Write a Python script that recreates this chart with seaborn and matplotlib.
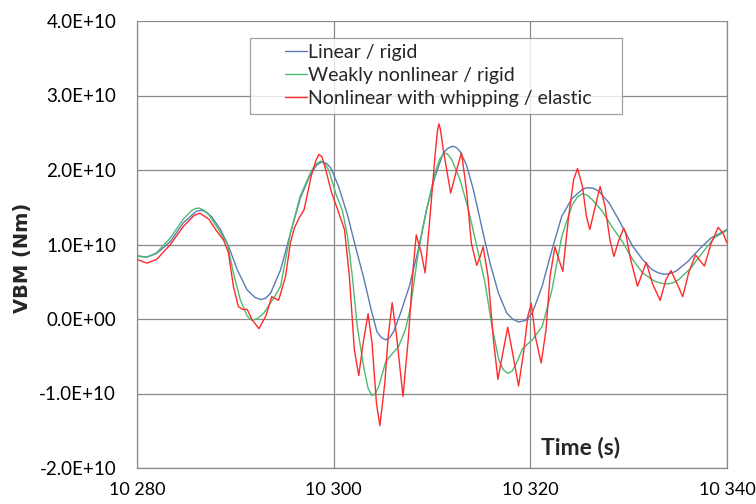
import numpy as np
import pandas as pd
import matplotlib
matplotlib.use("Agg")
import matplotlib.pyplot as plt
from matplotlib.ticker import FuncFormatter, FixedLocator
from matplotlib.legend_handler import HandlerLine2D
from matplotlib.lines import Line2D
import seaborn as sns

# ---- data (VBM in units of 1e10 Nm) ----
t_linear = [10280, 10281, 10282, 10283.4, 10284.7, 10285.8, 10286.1, 10286.6, 10287.1, 10287.6,
            10288.5, 10289.3, 10290.2, 10291.2, 10292.0, 10292.6, 10293.1, 10293.6, 10294.6, 10295.6,
            10296.6, 10297.7, 10298.3, 10298.8, 10299.25, 10299.7, 10300.5, 10301.4, 10302.2, 10303.1,
            10303.8, 10304.4, 10304.85, 10305.3, 10305.7, 10306.1, 10306.8, 10307.7, 10308.6, 10309.45,
            10310.3, 10311.15, 10311.6, 10312.1, 10312.5, 10312.85, 10313.5, 10314.2, 10315.05, 10315.9,
            10316.75, 10317.6, 10318.2, 10318.8, 10319.5, 10320.2, 10321.2, 10322.2, 10323.2, 10324.25,
            10325.3, 10325.7, 10326.1, 10326.5, 10327.0, 10328.0, 10329.0, 10330.4, 10331.4, 10332.4,
            10333.0, 10333.6, 10334.2, 10334.8, 10336.0, 10337.2, 10338.4, 10340]
v_linear = [0.85, 0.83, 0.88, 1.04, 1.29, 1.42, 1.45, 1.46, 1.43, 1.37,
            1.20, 0.98, 0.66, 0.39, 0.29, 0.26, 0.28, 0.35, 0.66, 1.15,
            1.62, 1.96, 2.07, 2.11, 2.09, 2.03, 1.78, 1.40, 0.98, 0.53,
            0.13, -0.17, -0.25, -0.28, -0.25, -0.17, 0.08, 0.44, 0.93, 1.47,
            1.91, 2.23, 2.29, 2.32, 2.30, 2.25, 2.07, 1.74, 1.24, 0.75,
            0.35, 0.08, 0.00, -0.04, -0.02, 0.08, 0.44, 0.93, 1.38, 1.62,
            1.74, 1.76, 1.76, 1.75, 1.71, 1.56, 1.33, 0.98, 0.80, 0.66,
            0.62, 0.60, 0.61, 0.64, 0.77, 0.94, 1.09, 1.20]

t_weak = [10280, 10281, 10282, 10283.4, 10284.7, 10285.6, 10285.9, 10286.3, 10286.8, 10287.3,
          10288.3, 10289.2, 10289.8, 10290.5, 10291.2, 10291.7, 10292.3, 10292.9, 10293.9, 10294.6,
          10295.6, 10296.6, 10297.7, 10298.2, 10298.7, 10299.1, 10299.5, 10300.2, 10300.9, 10301.4,
          10301.9, 10302.4, 10303.1, 10303.5, 10303.9, 10304.25, 10304.6, 10305.3, 10306.0, 10306.6,
          10307.3, 10307.8, 10308.6, 10309.45, 10310.3, 10310.8, 10311.25, 10311.6, 10312.0, 10312.85,
          10313.7, 10314.55, 10315.4, 10316.1, 10316.8, 10317.25, 10317.7, 10318.15, 10318.6, 10319.2,
          10320.2, 10321.2, 10322.2, 10323.2, 10324.25, 10324.8, 10325.3, 10325.8, 10326.3, 10327.3,
          10328.3, 10329.4, 10330.4, 10331.4, 10332.6, 10333.3, 10334.0, 10334.6, 10335.1, 10336.3,
          10337.5, 10338.7, 10340]
v_weak = [0.84, 0.83, 0.89, 1.09, 1.34, 1.46, 1.48, 1.49, 1.46, 1.40,
          1.20, 1.00, 0.62, 0.26, 0.04, -0.02, 0.01, 0.08, 0.28, 0.44,
          1.15, 1.65, 1.98, 2.08, 2.12, 2.08, 2.00, 1.69, 1.45, 1.11,
          0.57, -0.10, -0.68, -0.93, -1.03, -1.00, -0.90, -0.57, -0.46, -0.37,
          -0.14, 0.15, 0.89, 1.47, 1.96, 2.15, 2.23, 2.21, 2.14, 1.87,
          1.47, 0.98, 0.48, -0.10, -0.55, -0.68, -0.73, -0.70, -0.59, -0.40,
          -0.28, -0.10, 0.39, 1.11, 1.53, 1.64, 1.68, 1.66, 1.60, 1.45,
          1.24, 1.03, 0.80, 0.62, 0.51, 0.48, 0.47, 0.49, 0.53, 0.68,
          0.89, 1.09, 1.19]

t_whip = [10280, 10281, 10282, 10283.4, 10284.7, 10285.8, 10286.4, 10287.3, 10288.0, 10288.8,
          10289.3, 10289.8, 10290.3, 10290.7, 10291.2, 10291.7, 10292.4, 10293.1, 10293.7, 10294.4,
          10295.1, 10295.6, 10296.0, 10296.5, 10297.0, 10297.7, 10298.2, 10298.5, 10298.8, 10299.1,
          10299.8, 10300.4, 10301.1, 10301.6, 10302.1, 10302.55, 10303.0, 10303.5, 10303.9, 10304.35,
          10304.7, 10305.2, 10305.55, 10305.95, 10306.4, 10307.05, 10307.6, 10308.1, 10308.4, 10308.9,
          10309.3, 10309.8, 10310.3, 10310.55, 10310.7, 10310.85, 10311.15, 10311.9, 10312.5, 10313.0,
          10313.5, 10314.0, 10314.55, 10314.9, 10315.2, 10315.7, 10316.25, 10316.7, 10317.2, 10317.7,
          10318.2, 10318.8, 10319.3, 10319.75, 10320.1, 10320.5, 10321.1, 10321.6, 10322.0, 10322.5,
          10322.9, 10323.3, 10323.9, 10324.4, 10324.8, 10325.3, 10325.7, 10326.05, 10326.6, 10327.1,
          10327.6, 10328.1, 10328.5, 10329.0, 10329.5, 10329.7, 10330.2, 10330.9, 10331.4, 10331.8,
          10332.4, 10333.2, 10333.8, 10334.3, 10334.9, 10335.5, 10336.1, 10336.8, 10337.7, 10338.4,
          10339.1, 10339.6, 10340]
v_whip = [0.80, 0.75, 0.80, 1.00, 1.24, 1.39, 1.42, 1.34, 1.20, 1.06,
          0.89, 0.44, 0.17, 0.13, 0.13, -0.01, -0.13, 0.04, 0.30, 0.25,
          0.57, 1.02, 1.22, 1.36, 1.47, 1.91, 2.13, 2.21, 2.18, 2.05,
          1.69, 1.47, 1.20, 0.57, -0.41, -0.76, -0.32, 0.07, -0.32, -1.13,
          -1.43, -0.86, -0.23, 0.22, -0.23, -1.04, -0.25, 0.71, 1.13, 0.89,
          0.62, 1.38, 2.18, 2.52, 2.62, 2.55, 2.27, 1.69, 2.00, 2.23,
          1.74, 1.02, 0.72, 0.84, 0.97, 0.57, -0.28, -0.81, -0.46, -0.11,
          -0.46, -0.90, -0.46, 0.04, 0.21, -0.23, -0.59, -0.14, 0.57, 0.97,
          0.80, 0.64, 1.38, 1.87, 2.02, 1.78, 1.38, 1.20, 1.51, 1.78,
          1.51, 1.06, 0.84, 1.06, 1.22, 1.15, 0.80, 0.44, 0.62, 0.76,
          0.48, 0.25, 0.53, 0.65, 0.48, 0.30, 0.62, 0.86, 0.71, 1.02,
          1.23, 1.15, 1.02]

series_names = ["Linear / rigid", "Weakly nonlinear / rigid", "Nonlinear with whipping / elastic"]
series_colors = ["#5a7bb3", "#4dbb72", "#ff2a2a"]
x_ticks = [10280, 10300, 10320, 10340]
y_ticks = [-2e10, -1e10, 0, 1e10, 2e10, 3e10, 4e10]

frames = []
for name, t, v in zip(series_names, [t_linear, t_weak, t_whip], [v_linear, v_weak, v_whip]):
    frames.append(pd.DataFrame({"Time": t, "VBM": np.array(v) * 1e10, "Series": name}))
df = pd.concat(frames, ignore_index=True)

sns.set_style("white")
plt.rcParams["font.family"] = ["Lato", "DejaVu Sans"]

fig = plt.figure(figsize=(7.56, 5.04), dpi=100)
ax = fig.add_axes([137 / 756, 1 - 468 / 504, 590 / 756, 447 / 504])

sns.lineplot(data=df, x="Time", y="VBM", hue="Series", hue_order=series_names,
             palette=dict(zip(series_names, series_colors)), estimator=None, sort=True,
             linewidth=1.0, ax=ax)

ax.set_xlim(10280, 10340)
ax.set_ylim(-2e10, 4e10)
ax.xaxis.set_major_locator(FixedLocator(x_ticks))
ax.yaxis.set_major_locator(FixedLocator(y_ticks))
ax.xaxis.set_major_formatter(FuncFormatter(lambda v, p: f"{int(round(v)):,}".replace(",", " ")))
ax.yaxis.set_major_formatter(FuncFormatter(lambda v, p: f"{v:.1E}"))
ax.grid(True, color="#8a8a8a", linewidth=0.9)
ax.set_axisbelow(True)
for s in ["left", "bottom", "right"]:
    ax.spines[s].set_color("#8a8a8a")
    ax.spines[s].set_linewidth(0.9)
ax.spines["top"].set_visible(False)
ax.tick_params(axis="both", which="major", direction="out", length=5, color="#8a8a8a",
               labelsize=13.5, labelcolor="black")
ax.tick_params(axis="x", pad=5, labelsize=13)
ax.tick_params(axis="y", pad=10)

ax.set_xlabel("")
ax.set_ylabel("VBM (Nm)", fontsize=14, fontweight="bold", family="DejaVu Sans")
ax.yaxis.set_label_coords(-0.178, 0.47)
ax.text(0.751, 0.030, "Time (s)", transform=ax.transAxes, ha="center", va="baseline",
        fontsize=16.5, fontweight="bold")

handles = [Line2D([], [], color=c, linewidth=1.0) for c in series_colors]
leg = ax.legend(handles, series_names, loc="upper left",
                bbox_to_anchor=((250 - 137) / 590, 0.3, (622 - 250) / 590, (467.5 - 37) / 447 - 0.3),
                mode="expand", frameon=True, fancybox=False,
                fontsize=14, handlelength=2.6, handletextpad=0.05, borderpad=0.35,
                labelspacing=0.3, borderaxespad=0,
                handler_map={Line2D: HandlerLine2D(xpad=1.45)})
leg.get_frame().set_edgecolor("#8a8a8a")
leg.get_frame().set_linewidth(0.9)

fig.savefig("out.png", dpi=100)
